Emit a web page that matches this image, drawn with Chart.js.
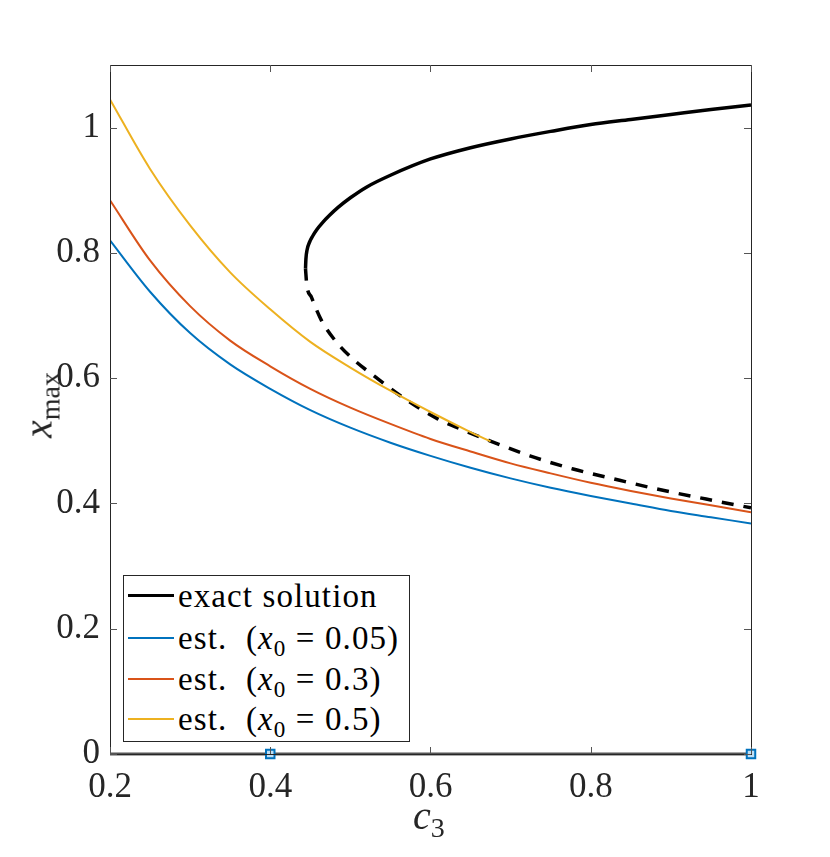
<!DOCTYPE html>
<html lang="en">
<head>
  <meta charset="UTF-8" />
  <title>x_max vs c3</title>
  <script src="https://cdn.jsdelivr.net/npm/chart.js"></script>
  <style>
    body {
      margin: 0;
      background: #ffffff;
      font-family: 'Liberation Serif', serif;
      color: #262626;
    }
    .wrap {
      position: relative;
      width: 830px;
      height: 857px;
    }
    #legend {
      position: absolute;
      left: 123px;
      top: 575px;
      width: 287px;
      height: 167px;
      border: 1px solid #262626;
      background: #ffffff;
      box-sizing: border-box;
    }
    .row {
      position: absolute;
      left: 0;
      height: 40px;
      line-height: 40px;
      font-size: 33px;
      letter-spacing: 1.1px;
      white-space: nowrap;
      color: #000;
    }
    .row .swatch {
      position: absolute;
      left: 4px;
      top: 19px;
      width: 46px;
      height: 2px;
    }
    .row span.txt {
      position: absolute;
      left: 54px;
      top: 0;
    }
    sub {
      font-size: 0.7em;
      vertical-align: -0.3em;
      line-height: 0;
    }
    .axtitle {
      position: absolute;
      font-size: 40px;
      color: #262626;
      white-space: nowrap;
    }
  </style>
</head>
<body>
  <div class="wrap">
    <canvas id="chart" width="830" height="857"></canvas>

    <div id="legend">
      <div class="row" style="top:0px"><div class="swatch" style="background:#000;height:3px;top:18px"></div><span class="txt">exact solution</span></div>
      <div class="row" style="top:42px"><div class="swatch" style="background:#0072BD"></div><span class="txt">est.&nbsp; (<i>x</i><sub>0</sub> = 0.05)</span></div>
      <div class="row" style="top:83px"><div class="swatch" style="background:#D95319"></div><span class="txt">est.&nbsp; (<i>x</i><sub>0</sub> = 0.3)</span></div>
      <div class="row" style="top:123px"><div class="swatch" style="background:#EDB120"></div><span class="txt">est.&nbsp; (<i>x</i><sub>0</sub> = 0.5)</span></div>
    </div>

    <div class="axtitle" id="xtitle" style="left:413px; top:792px;"><i>c</i><sub>3</sub></div>
    <div class="axtitle" id="ytitle" style="left:38px; top:405px; transform: translate(-50%,-50%) rotate(-90deg);"><i>x</i><sub>max</sub></div>
  </div>

  <script>
    // axis ticks
    const xTicks = [0.2, 0.4, 0.6, 0.8, 1];
    const yTicks = [0, 0.2, 0.4, 0.6, 0.8, 1];

    // exact solution, upper (stable) branch
    const exactUpperC = [0.444, 0.4445, 0.446, 0.449, 0.453, 0.458, 0.465, 0.474, 0.485, 0.500, 0.520, 0.550, 0.600, 0.650, 0.700, 0.750, 0.800, 0.850, 0.900, 0.950, 1.000];
    const exactUpperX = [0.775, 0.790, 0.805, 0.817, 0.827, 0.837, 0.848, 0.860, 0.873, 0.888, 0.905, 0.924, 0.950, 0.968, 0.982, 0.994, 1.005, 1.013, 1.021, 1.029, 1.036];

    // exact solution, lower (dashed) branch
    const exactLowerC = [0.444, 0.4455, 0.4515, 0.464, 0.485, 0.5055, 0.526, 0.568, 0.609, 0.643, 0.674, 0.724, 0.778, 0.836, 0.890, 0.944, 1.000];
    const exactLowerX = [0.775, 0.750, 0.729, 0.692, 0.654, 0.628, 0.607, 0.567, 0.535, 0.516, 0.500, 0.476, 0.455, 0.437, 0.421, 0.407, 0.393];

    // estimates
    const estC = [0.2, 0.25, 0.3, 0.35, 0.4, 0.45, 0.5, 0.55, 0.6, 0.65, 0.7, 0.75, 0.8, 0.85, 0.9, 0.95, 1.0];
    const est005 = [0.820, 0.738, 0.672, 0.622, 0.583, 0.549, 0.521, 0.497, 0.476, 0.457, 0.440, 0.425, 0.412, 0.400, 0.388, 0.378, 0.368];
    const est03  = [0.884, 0.788, 0.715, 0.660, 0.619, 0.583, 0.553, 0.527, 0.503, 0.483, 0.464, 0.448, 0.433, 0.420, 0.408, 0.397, 0.386];

    const est05C = [0.2, 0.25, 0.3, 0.35, 0.4, 0.45, 0.5, 0.55, 0.6, 0.65, 0.675];
    const est05  = [1.045, 0.934, 0.844, 0.769, 0.710, 0.658, 0.617, 0.580, 0.546, 0.514, 0.499];

    // zero line and its markers
    const zeroC = [0.2, 1];
    const zeroX = [0, 0];
    const markC = [0.4, 1];
    const markX = [0, 0];

    const pts = (xs, ys) => xs.map((x, i) => ({ x: x, y: ys[i] }));

    const line = (data, color, width, extra) => Object.assign({
      data: data,
      showLine: true,
      borderColor: color,
      borderWidth: width,
      pointRadius: 0,
      cubicInterpolationMode: 'monotone',
      fill: false
    }, extra || {});

    // box + inward ticks, MATLAB style
    const boxPlugin = {
      id: 'box',
      afterDraw(chart) {
        const { ctx, chartArea: a, scales } = chart;
        ctx.save();
        ctx.strokeStyle = '#262626';
        ctx.lineWidth = 1;
        ctx.strokeRect(a.left + 0.5, a.top + 0.5, a.right - a.left, a.bottom - a.top);
        ctx.strokeStyle = '#555555';
        ctx.beginPath();
        const tl = 7;
        xTicks.forEach(v => {
          const px = Math.round(scales.x.getPixelForValue(v)) + 0.5;
          ctx.moveTo(px, a.bottom); ctx.lineTo(px, a.bottom - tl);
          ctx.moveTo(px, a.top); ctx.lineTo(px, a.top + tl);
        });
        yTicks.forEach(v => {
          const py = Math.round(scales.y.getPixelForValue(v)) + 0.5;
          ctx.moveTo(a.left, py); ctx.lineTo(a.left + tl, py);
          ctx.moveTo(a.right, py); ctx.lineTo(a.right - tl, py);
        });
        ctx.stroke();
        ctx.restore();
      }
    };

    const tickFont = { family: "'Liberation Serif', serif", size: 35 };

    new Chart(document.getElementById('chart'), {
      type: 'scatter',
      data: {
        datasets: [
          {
            data: pts(markC, markX),
            pointStyle: 'rect',
            pointRadius: 6,
            pointBorderWidth: 2,
            pointBorderColor: '#0072BD',
            pointBackgroundColor: '#BFDFF5',
            clip: false
          },
          line(pts(zeroC, zeroX), '#555555', 3, { clip: false }),
          line(pts(est05C, est05), '#EDB120', 2),
          line(pts(estC, est03), '#D95319', 2),
          line(pts(estC, est005), '#0072BD', 2),
          line(pts(exactLowerC, exactLowerX), '#000000', 3.5, { borderDash: [12, 10] }),
          line(pts(exactUpperC, exactUpperX), '#000000', 3.5)
        ]
      },
      options: {
        responsive: false,
        animation: false,
        layout: { padding: { top: 65, right: 79, left: 0, bottom: 0 } },
        plugins: {
          legend: { display: false },
          tooltip: { enabled: false }
        },
        scales: {
          x: {
            type: 'linear',
            min: 0.2,
            max: 1,
            afterFit: s => { s.height = 103; },
            afterBuildTicks: s => { s.ticks = xTicks.map(v => ({ value: v })); },
            grid: { display: false, drawTicks: false },
            border: { display: false },
            ticks: {
              padding: 13,
              color: '#262626',
              font: tickFont,
              callback: v => String(+v.toFixed(1))
            }
          },
          y: {
            type: 'linear',
            min: 0,
            max: 1.1,
            afterFit: s => { s.width = 110; },
            afterBuildTicks: s => { s.ticks = yTicks.map(v => ({ value: v })); },
            grid: { display: false, drawTicks: false },
            border: { display: false },
            ticks: {
              padding: 10,
              color: '#262626',
              font: tickFont,
              callback: v => String(+v.toFixed(1))
            }
          }
        }
      },
      plugins: [boxPlugin]
    });
  </script>
</body>
</html>
